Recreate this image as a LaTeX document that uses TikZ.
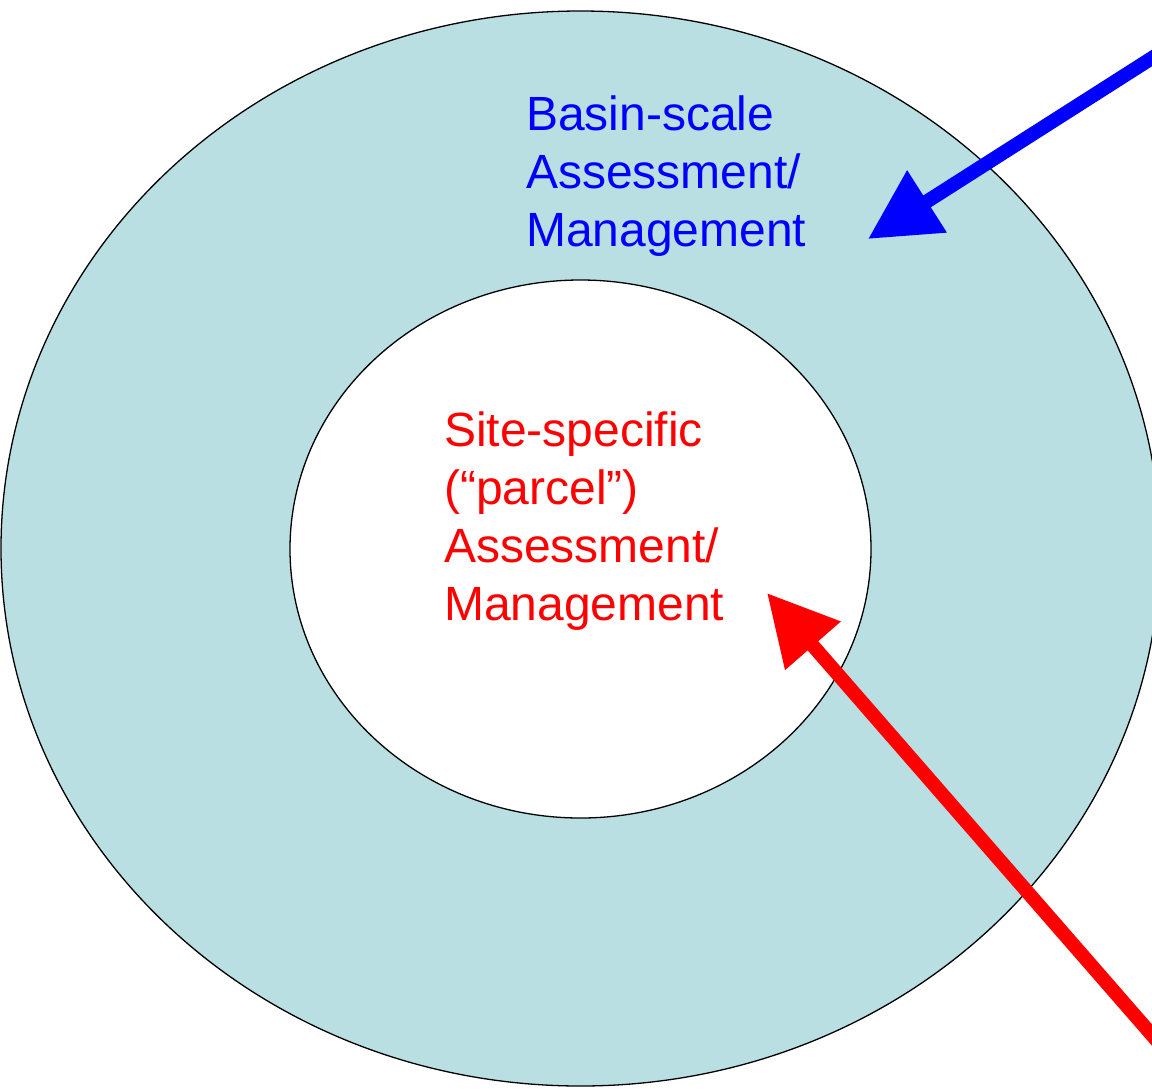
\documentclass[tikz,border=0pt]{standalone}
\usepackage{fontspec}
\setmainfont{Liberation Sans}
\usetikzlibrary{arrows.meta}
\definecolor{ringfill}{RGB}{185,223,226}
\begin{document}
\begin{tikzpicture}[x=1pt,y=-1pt,
  bigarrow/.style={line width=14pt, -{Triangle[length=70pt,width=70pt]}},
  ringline/.style={line width=1.3pt, draw=black},
  txtblock/.style={anchor=north west, inner sep=0pt, align=left, font=\fontsize{48}{57.7}\selectfont}]
\useasboundingbox (0,0) rectangle (1152,1088);
\clip (0,0) rectangle (1152,1088);
\draw[ringline, fill=ringfill] (580.5,548.5) ellipse [x radius=579.5pt, y radius=537.5pt];
\draw[ringline, fill=white] (580.5,549) ellipse [x radius=290.5pt, y radius=269pt];
\node[txtblock, text=blue] (basin) at (526,96) {Basin-scale\\Assessment/\\Management};
\node[txtblock, text=red] (site) at (444,412) {Site-specific\\(“parcel”)\\Assessment/\\Management};
\coordinate (bstart) at (1180.4,39.9);
\coordinate (btip) at (868,239);
\coordinate (rstart) at (1190.5,1079.2);
\coordinate (rtip) at (767,593);
\draw[bigarrow, blue] (bstart) -- (btip);
\draw[bigarrow, red] (rstart) -- (rtip);
\end{tikzpicture}
\end{document}
